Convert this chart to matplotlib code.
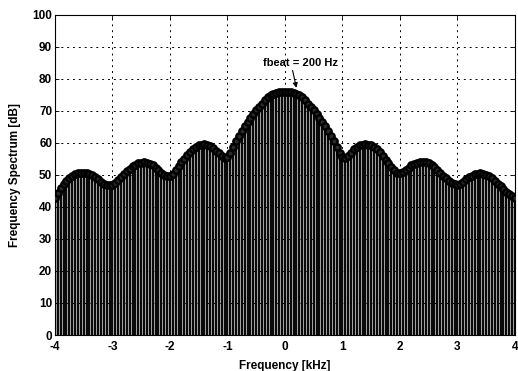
import numpy as np
import matplotlib.pyplot as plt

plt.rcParams['font.family'] = ['Liberation Sans', 'DejaVu Sans']

# frequency bins in kHz (50 Hz steps, -4 .. 4)
freq_khz = np.round(np.arange(-80, 81) * 0.05, 2)

spectrum_db = [
    42.9, 44.2, 45.8, 47.1, 48.2, 49.0, 49.7, 50.2, 50.5, 50.7,   # -4.00 .. -3.55
    50.7, 50.6, 50.3, 49.9, 49.3, 48.6, 47.9, 47.3, 46.9, 46.8,   # -3.50 .. -3.05
    47.0, 47.6, 48.5, 49.4, 50.3, 51.2, 52.0, 52.7, 53.2, 53.6,   # -3.00 .. -2.55
    53.8, 53.9, 53.8, 53.5, 53.0, 52.3, 51.5, 50.7, 50.0, 49.6,   # -2.50 .. -2.05
    49.7, 50.4, 51.5, 52.7, 53.9, 55.1, 56.2, 57.2, 58.0, 58.7,   # -2.00 .. -1.55
    59.2, 59.5, 59.6, 59.4, 59.0, 58.4, 57.6, 56.7, 55.8, 55.3,   # -1.50 .. -1.05
    55.6, 56.9, 58.7, 60.5, 62.2, 63.8, 65.2, 66.6, 67.9, 69.1,   # -1.00 .. -0.55
    70.2, 71.3, 72.3, 73.3, 74.2, 74.9, 75.4, 75.7, 75.9, 76.0,   # -0.50 .. -0.05
    76.0,                                                          #  0.00
    76.0, 75.9, 75.7, 75.4, 74.9, 74.2, 73.3, 72.3, 71.3, 70.2,   #  0.05 ..  0.50
    69.0, 67.8, 66.5, 65.2, 63.8, 62.2, 60.5, 58.6, 56.8, 55.6,   #  0.55 ..  1.00
    55.3, 56.0, 57.0, 58.0, 58.7, 59.2, 59.5, 59.6, 59.5, 59.2,   #  1.05 ..  1.50
    58.7, 58.0, 57.1, 56.0, 54.8, 53.6, 52.4, 51.4, 50.7, 50.5,   #  1.55 ..  2.00
    50.8, 51.5, 52.3, 53.0, 53.5, 53.8, 54.0, 54.0, 53.9, 53.6,   #  2.05 ..  2.50
    53.1, 52.4, 51.6, 50.7, 49.8, 48.9, 48.1, 47.5, 47.1, 47.0,   #  2.55 ..  3.00
    47.2, 47.8, 48.6, 49.3, 49.8, 50.2, 50.4, 50.5, 50.4, 50.1,   #  3.05 ..  3.50
    49.6, 49.0, 48.2, 47.3, 46.4, 45.5, 44.7, 44.0, 43.4, 42.9,   #  3.55 ..  4.00
]

x_ticks = [-4, -3, -2, -1, 0, 1, 2, 3, 4]
y_ticks = [0, 10, 20, 30, 40, 50, 60, 70, 80, 90, 100]

fig = plt.figure(figsize=(5.18, 3.71), dpi=100)
ax = fig.add_axes([0.106, 0.097, 0.888, 0.863])

ax.grid(True, color='black', linestyle=(0, (2, 4)), linewidth=0.7, zorder=0)
ax.set_axisbelow(True)

# stems, then the open circle markers that merge into the envelope band
ax.vlines(freq_khz, 0, spectrum_db, color='#0a0a0a', linewidth=1.75, zorder=2)
ax.plot(freq_khz, spectrum_db, linestyle='none', marker='o', markersize=4.6,
        markerfacecolor='#2a2a2a', markeredgecolor='black', markeredgewidth=1.7,
        zorder=3)

ax.annotate('fbeat = 200 Hz', xy=(0.2, 77.2), xytext=(0.28, 83.5),
            ha='center', va='bottom', fontsize=8, fontweight='bold',
            arrowprops=dict(arrowstyle='-|>', color='black', lw=0.8,
                            mutation_scale=7, shrinkA=0, shrinkB=0,
                            relpos=(0.38, 0)))

ax.set_xlim(-4, 4)
ax.set_ylim(0, 100)
ax.set_xticks(x_ticks)
ax.set_yticks(y_ticks)
ax.set_xticklabels([str(t) for t in x_ticks])
ax.tick_params(direction='in', length=3, width=0.6, top=True, right=True,
               labelsize=8.5)
ax.tick_params(axis='x', pad=4)
ax.tick_params(axis='y', pad=2)
for lab in ax.get_xticklabels() + ax.get_yticklabels():
    lab.set_fontweight('bold')
for sp in ax.spines.values():
    sp.set_linewidth(0.8)

ax.set_xlabel('Frequency [kHz]', fontsize=8.5, fontweight='bold', labelpad=5)
ax.set_ylabel('Frequency Spectrum [dB]', fontsize=8.5, fontweight='bold', labelpad=8)

fig.savefig('out.png', dpi=100)
